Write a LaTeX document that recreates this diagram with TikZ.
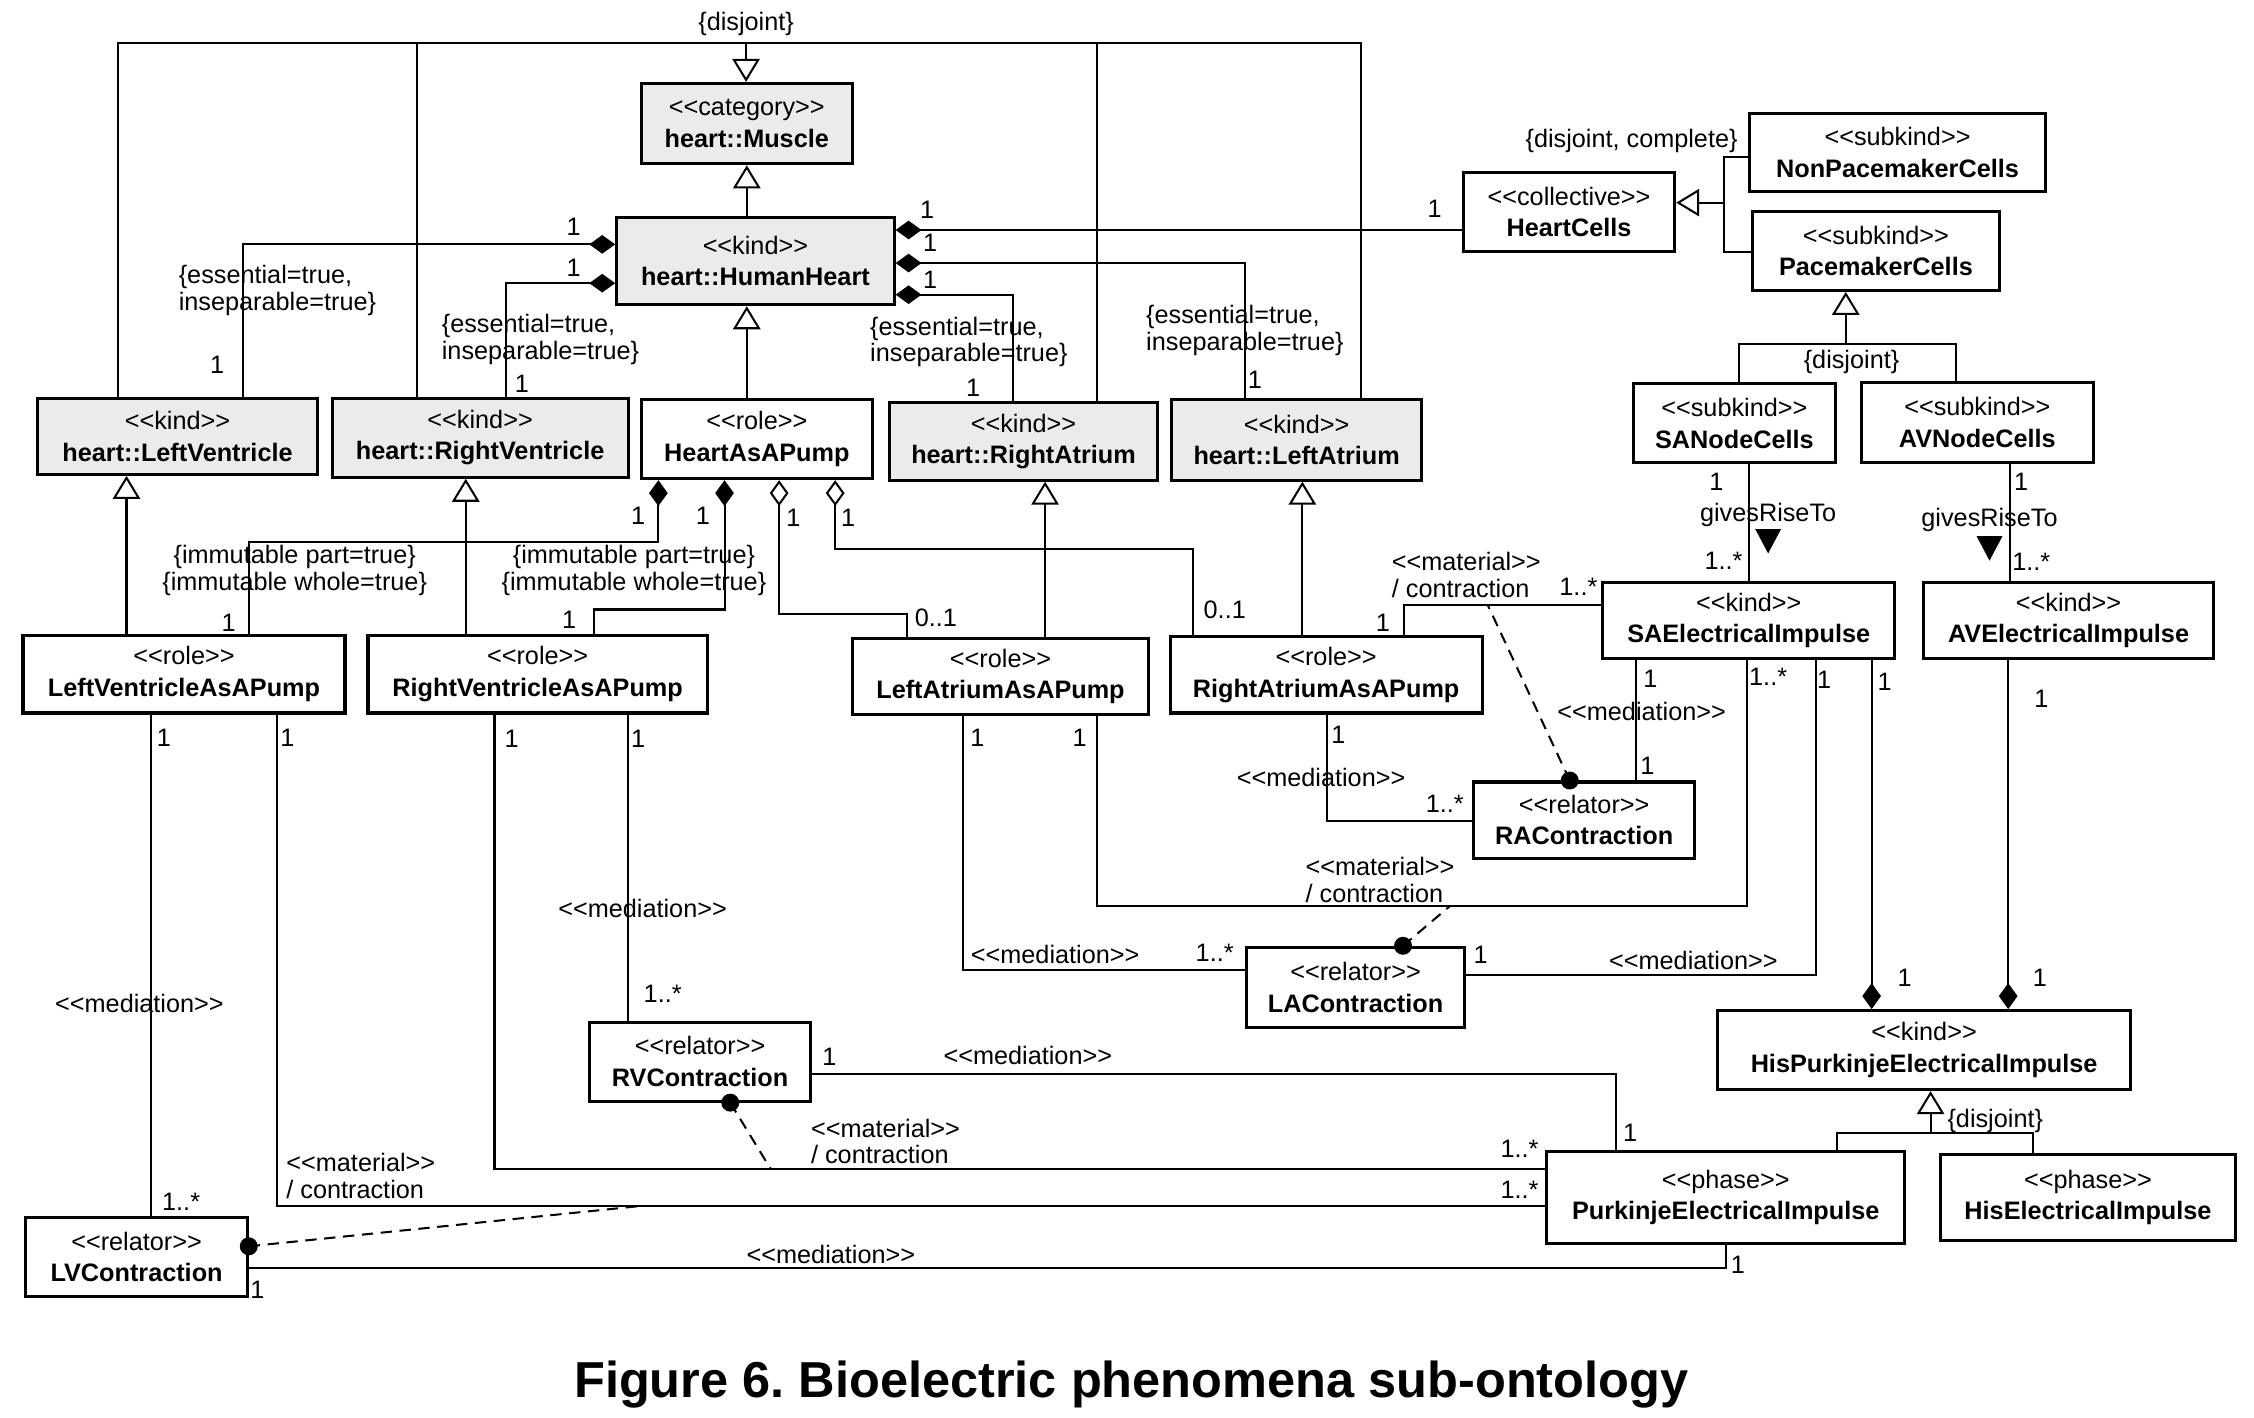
\documentclass[tikz,border=0pt]{standalone}
\usepackage{fontspec}
\setmainfont{Liberation Sans}
\usetikzlibrary{arrows.meta}
\newcommand{\stereo}[1]{<\kern0pt<#1>\kern0pt>}
\tikzset{
  cls/.style={draw, line width=1.2pt, fill=white, inner sep=0pt, align=center,
    font=\fontsize{10}{12.5}\selectfont},
  grey/.style={cls, fill=black!8},
  sz/.style 2 args={minimum width=#1*0.02cm, minimum height=#2*0.02cm},
  line/.style={line width=0.8pt},
  gen/.style={line, -{Triangle[open, length=0.32cm, width=0.38cm]}},
  comp/.style={line, -{Diamond[length=0.36cm, width=0.26cm]}},
  aggr/.style={line, -{Diamond[open, length=0.36cm, width=0.26cm]}},
  deriv/.style={line, dash pattern=on 4.5pt off 3pt},
  lbl/.style={inner sep=1pt},
  cons/.style={lbl, align=left}
}

\begin{document}
\begin{tikzpicture}[x=0.02cm, y=-0.02cm, font=\fontsize{10}{10.5}\selectfont]
  \useasboundingbox (0,0) rectangle (1568,986);

  % ---------------- heart and its parts ----------------
  \node[grey, sz={147}{56}] (mus) at (519.5,86) {\stereo{category}\\\textbf{heart::Muscle}};
  \node[grey, sz={193}{61}] (hh) at (525.5,181.5) {\stereo{kind}\\\textbf{heart::HumanHeart}};
  \node[grey, sz={195}{53}] (lv) at (123.5,303.5) {\stereo{kind}\\\textbf{heart::LeftVentricle}};
  \node[grey, sz={206}{55}] (rv) at (334,304.5) {\stereo{kind}\\\textbf{heart::RightVentricle}};
  \node[cls, sz={161}{55}] (pump) at (526.5,305.5) {\stereo{role}\\\textbf{HeartAsAPump}};
  \node[grey, sz={186}{54}] (ra) at (712,307) {\stereo{kind}\\\textbf{heart::RightAtrium}};
  \node[grey, sz={174}{56}] (la) at (902,306) {\stereo{kind}\\\textbf{heart::LeftAtrium}};
  % ---------------- cells ----------------
  \node[cls, sz={147}{55}] (cells) at (1091.5,147.5) {\stereo{collective}\\\textbf{HeartCells}};
  \node[cls, sz={206}{54}] (nonpace) at (1320,106) {\stereo{subkind}\\\textbf{NonPacemakerCells}};
  \node[cls, sz={172}{55}] (pace) at (1305,174.5) {\stereo{subkind}\\\textbf{PacemakerCells}};
  \node[cls, sz={141}{55}] (sanode) at (1206.5,294.5) {\stereo{subkind}\\\textbf{SANodeCells}};
  \node[cls, sz={161}{56}] (avnode) at (1375.5,294) {\stereo{subkind}\\\textbf{AVNodeCells}};
  % ---------------- roles ----------------
  \node[cls, sz={224}{54}] (lvpump) at (128,469) {\stereo{role}\\\textbf{LeftVentricleAsAPump}};
  \node[cls, sz={236}{54}] (rvpump) at (374,469) {\stereo{role}\\\textbf{RightVentricleAsAPump}};
  \node[cls, sz={206}{53}] (lapump) at (696,470.5) {\stereo{role}\\\textbf{LeftAtriumAsAPump}};
  \node[cls, sz={217}{53}] (rapump) at (922.5,469.5) {\stereo{role}\\\textbf{RightAtriumAsAPump}};
  % ---------------- impulses ----------------
  \node[cls, sz={203}{53}] (saimp) at (1216.5,431.5) {\stereo{kind}\\\textbf{SAElectricalImpulse}};
  \node[cls, sz={202}{53}] (avimp) at (1439,431.5) {\stereo{kind}\\\textbf{AVElectricalImpulse}};
  \node[cls, sz={287}{55}] (hpimp) at (1338.5,730.5) {\stereo{kind}\\\textbf{HisPurkinjeElectricalImpulse}};
  \node[cls, sz={249}{64}] (pimp) at (1200.5,833) {\stereo{phase}\\\textbf{PurkinjeElectricalImpulse}};
  \node[cls, sz={205}{60}] (himp) at (1452.5,833) {\stereo{phase}\\\textbf{HisElectricalImpulse}};
  % ---------------- relators ----------------
  \node[cls, sz={154}{53}] (racon) at (1102,570.5) {\stereo{relator}\\\textbf{RAContraction}};
  \node[cls, sz={152}{56}] (lacon) at (943,687) {\stereo{relator}\\\textbf{LAContraction}};
  \node[cls, sz={154}{55}] (rvcon) at (487,738.5) {\stereo{relator}\\\textbf{RVContraction}};
  \node[cls, sz={154}{55}] (lvcon) at (95,874.5) {\stereo{relator}\\\textbf{LVContraction}};

  % ---------------- generalizations ----------------
  \coordinate (gtop) at (519,30);
  \draw[gen] (gtop) -- (mus.north -| gtop);
  \draw[line] (lv.north -| 82,0) |- (gtop) -| (la.north -| 947,0);
  \draw[line] (rv.north -| 290,0) -- (gtop -| 290,0);
  \draw[line] (ra.north -| 763,0) -- (gtop -| 763,0);
  \node[lbl] (dj1) at (519,17) {\{disjoint\}};
  \draw[gen] (hh.north -| mus) -- (mus.south);
  \draw[gen] (pump.north -| mus) -- (hh.south -| mus);
  \draw[gen] (lvpump.north -| 88,0) -- (lv.south -| 88,0);
  \draw[gen] (rvpump.north -| 324,0) -- (rv.south -| 324,0);
  \draw[gen] (lapump.north -| 727,0) -- (ra.south -| 727,0);
  \draw[gen] (rapump.north -| 906,0) -- (la.south -| 906,0);
  \coordinate (cjoin) at (1199,141);
  \draw[gen] (cjoin) -- (cells.east |- cjoin);
  \draw[line] (nonpace.west |- 0,109) -| (cjoin) |- (pace.west |- 0,175);
  \node[lbl] (dj2) at (1135,98) {\{disjoint, complete\}};
  \coordinate (pjoin) at (1284,239);
  \draw[gen] (pjoin) -- (pace.south -| pjoin);
  \draw[line] (sanode.north -| 1210,0) |- (pjoin) -| (avnode.north -| 1361,0);
  \node[lbl] (dj3) at (1288,252) {\{disjoint\}};
  \coordinate (hjoin) at (1343,788);
  \draw[gen] (hjoin) -- (hpimp.south -| hjoin);
  \draw[line] (pimp.north -| 1278,0) |- (hjoin) -| (himp.north -| 1414,0);
  \node[lbl] (dj4) at (1388,780) {\{disjoint\}};

  % ---------------- parts of the heart ----------------
  \draw[comp] (lv.north -| 169,0) |- (hh.west |- 0,170);
  \draw[comp] (rv.north -| 352,0) |- (hh.west |- 0,197);
  \draw[comp] (cells.west |- 0,160) -- (hh.east |- 0,160);
  \draw[comp] (la.north -| 866,0) |- (hh.east |- 0,183);
  \draw[comp] (ra.north -| 705,0) |- (hh.east |- 0,205);
  \node[lbl] (c1a) at (399,158) {1};
  \node[lbl] (c1b) at (151,254) {1};
  \node[lbl] (c2a) at (399,186) {1};
  \node[lbl] (c2b) at (363,267) {1};
  \node[lbl] (c3a) at (645,146) {1};
  \node[lbl] (c3b) at (998,145) {1};
  \node[lbl] (c4a) at (647,169) {1};
  \node[lbl] (c4b) at (873,264) {1};
  \node[lbl] (c5a) at (647,195) {1};
  \node[lbl] (c5b) at (677,270) {1};
  \node[cons] (es1) at (193,202) {\{essential=true,\\inseparable=true\}};
  \node[cons] (es2) at (376,236) {\{essential=true,\\inseparable=true\}};
  \node[cons] (es3) at (674,238) {\{essential=true,\\inseparable=true\}};
  \node[cons] (es4) at (866,230) {\{essential=true,\\inseparable=true\}};

  % ---------------- pumps ----------------
  \draw[comp] (lvpump.north -| 173,0) |- (458,377) -- (pump.south -| 458,0);
  \draw[comp] (rvpump.north -| 413,0) |- (504,424) -- (pump.south -| 504,0);
  \draw[aggr] (lapump.north -| 631,0) |- (542,427) -- (pump.south -| 542,0);
  \draw[aggr] (rapump.north -| 830,0) |- (581,382) -- (pump.south -| 581,0);
  \node[lbl] (p1a) at (444,359) {1};
  \node[lbl] (p1b) at (159,433) {1};
  \node[lbl] (p2a) at (489,359) {1};
  \node[lbl] (p2b) at (396,431) {1};
  \node[lbl] (p3a) at (552,360) {1};
  \node[lbl] (p3b) at (651,430) {0..1};
  \node[lbl] (p4a) at (590,360) {1};
  \node[lbl] (p4b) at (852,424) {0..1};
  \node[lbl, align=center] (im1) at (205,397) {\{immutable part=true\}\\\{immutable whole=true\}};
  \node[lbl, align=center] (im2) at (441,397) {\{immutable part=true\}\\\{immutable whole=true\}};

  % ---------------- givesRiseTo ----------------
  \draw[line] (sanode.south -| 1217,0) -- (saimp.north -| 1217,0);
  \draw[line] (avnode.south -| 1398,0) -- (avimp.north -| 1398,0);
  \fill (1221,368) -- (1239,368) -- (1230,385) -- cycle;
  \fill (1375,373) -- (1393,373) -- (1384,390) -- cycle;
  \node[lbl] (g1a) at (1194,335) {1};
  \node[lbl] (g1n) at (1230,358) {givesRiseTo};
  \node[lbl] (g1b) at (1199,390) {1..*};
  \node[lbl] (g2a) at (1406,335) {1};
  \node[lbl] (g2n) at (1384,362) {givesRiseTo};
  \node[lbl] (g2b) at (1413,391) {1..*};

  % ---------------- His-Purkinje ----------------
  \draw[comp] (saimp.south -| 1302,0) -- (hpimp.north -| 1302,0);
  \draw[comp] (avimp.south -| 1397,0) -- (hpimp.north -| 1397,0);
  \node[lbl] (h1a) at (1311,474) {1};
  \node[lbl] (h1b) at (1325,680) {1};
  \node[lbl] (h2a) at (1420,486) {1};
  \node[lbl] (h2b) at (1419,680) {1};

  % ---------------- mediations and materials ----------------
  \draw[line] (lvpump.south -| 105,0) -- (lvcon.north -| 105,0);
  \node[lbl] (m1a) at (114,513) {1};
  \node[lbl] (m1n) at (97,698) {\stereo{mediation}};
  \node[lbl] (m1b) at (126,836) {1..*};
  \draw[line] (lvpump.south -| 193,0) |- (pimp.west |- 0,839);
  \node[lbl] (t1a) at (200,513) {1};
  \node[cons] (t1n) at (251,818) {\stereo{material}\\/ contraction};
  \node[lbl] (t1b) at (1057,828) {1..*};
  \draw[line] (rvpump.south -| 437,0) -- (rvcon.north -| 437,0);
  \node[lbl] (m2a) at (444,514) {1};
  \node[lbl] (m2n) at (447,632) {\stereo{mediation}};
  \node[lbl] (m2b) at (461,691) {1..*};
  \draw[line] (rvpump.south -| 344,0) |- (pimp.west |- 0,813);
  \node[lbl] (t2a) at (356,514) {1};
  \node[cons] (t2n) at (616,794) {\stereo{material}\\/ contraction};
  \node[lbl] (t2b) at (1057,799) {1..*};
  \draw[line] (rvcon.east |- 0,747) -| (pimp.north -| 1124,0);
  \node[lbl] (m3a) at (577,735) {1};
  \node[lbl] (m3n) at (715,734) {\stereo{mediation}};
  \node[lbl] (m3b) at (1134,788) {1};
  \draw[line] (lvcon.east |- 0,882) -| (pimp.south -| 1201,0);
  \node[lbl] (m4a) at (179,897) {1};
  \node[lbl] (m4n) at (578,873) {\stereo{mediation}};
  \node[lbl] (m4b) at (1209,880) {1};
  \draw[line] (lapump.south -| 670,0) |- (lacon.west |- 0,675);
  \node[lbl] (m5a) at (680,513) {1};
  \node[lbl] (m5n) at (734,664) {\stereo{mediation}};
  \node[lbl] (m5b) at (845,663) {1..*};
  \draw[line] (lapump.south -| 763,0) |- (1215,630) -- (saimp.south -| 1215,0);
  \node[lbl] (t3a) at (751,513) {1};
  \node[cons] (t3n) at (960,612) {\stereo{material}\\/ contraction};
  \node[lbl] (t3b) at (1230,471) {1..*};
  \draw[line] (lacon.east |- 0,678) -| (saimp.south -| 1263,0);
  \node[lbl] (m6a) at (1030,664) {1};
  \node[lbl] (m6n) at (1178,668) {\stereo{mediation}};
  \node[lbl] (m6b) at (1269,473) {1};
  \draw[line] (rapump.south -| 923,0) |- (racon.west |- 0,571);
  \node[lbl] (m7a) at (931,511) {1};
  \node[lbl] (m7n) at (919,541) {\stereo{mediation}};
  \node[lbl] (m7b) at (1005,559) {1..*};
  \draw[line] (rapump.north -| 977,0) |- (saimp.west |- 0,421);
  \node[lbl] (t4a) at (962,433) {1};
  \node[cons] (t4n) at (1020,400) {\stereo{material}\\/ contraction};
  \node[lbl] (t4b) at (1098,408) {1..*};
  \draw[line] (saimp.south -| 1138,0) -- (racon.north -| 1138,0);
  \node[lbl] (m8a) at (1148,472) {1};
  \node[lbl] (m8n) at (1142,495) {\stereo{mediation}};
  \node[lbl] (m8b) at (1146,533) {1};

  % ---------------- derivations ----------------
  \coordinate (lvdot) at (lvcon.east |- 0,867);
  \coordinate (mat1pt) at (445,839);
  \draw[deriv] (lvdot) -- (mat1pt);
  \fill (lvdot) circle (0.125cm);
  \coordinate (rvdot) at (rvcon.south -| 508,0);
  \coordinate (mat2pt) at (536,813);
  \draw[deriv] (rvdot) -- (mat2pt);
  \fill (rvdot) circle (0.125cm);
  \coordinate (ladot) at (lacon.north -| 976,0);
  \coordinate (mat3pt) at (1009,630);
  \draw[deriv] (ladot) -- (mat3pt);
  \fill (ladot) circle (0.125cm);
  \coordinate (radot) at (racon.north -| 1092,0);
  \coordinate (mat4pt) at (1035,421);
  \draw[deriv] (radot) -- (mat4pt);
  \fill (radot) circle (0.125cm);

  \node[font=\bfseries\fontsize{20}{24}\selectfont] (cap) at (787,963)
    {Figure 6.\ Bioelectric phenomena sub-ontology};
\end{tikzpicture}
\end{document}
